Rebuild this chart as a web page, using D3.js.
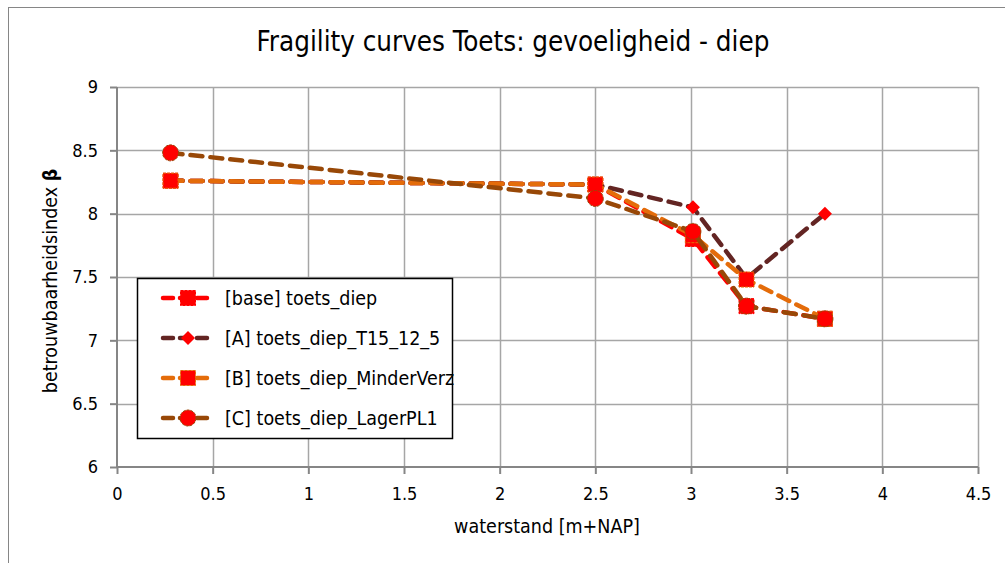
<!DOCTYPE html>
<html>
<head>
<meta charset="utf-8">
<script src="https://cdn.jsdelivr.net/npm/d3@7"></script>
<style>
  body { margin: 0; background: #fff; }
  svg text { font-family: "DejaVu Sans Condensed", "Liberation Sans", Arial, sans-serif; font-stretch: condensed; fill: #000; }
</style>
</head>
<body>
<div id="chart"></div>
<script>
// data
let waterstand = [0.28, 2.5, 3.01, 3.29, 3.7];
let baseVals = [8.26, 8.23, 7.80, 7.27, 7.17];
let aVals = [8.26, 8.23, 8.05, 7.49, 8.00];
let bVals = [8.26, 8.23, 7.83, 7.48, 7.17];
let cVals = [8.48, 8.12, 7.86, 7.27, 7.17];
let seriesNames = ["[base] toets_diep", "[A] toets_diep_T15_12_5", "[B] toets_diep_MinderVerz", "[C] toets_diep_LagerPL1"];
let xTicks = [0, 0.5, 1, 1.5, 2, 2.5, 3, 3.5, 4, 4.5];
let yTicks = [6, 6.5, 7, 7.5, 8, 8.5, 9];

let series = [
    {name: seriesNames[0], vals: baseVals, color: "#ff0000", marker: "square", stroke: "#ff0000"},
    {name: seriesNames[1], vals: aVals, color: "#632523", marker: "diamond", stroke: "none"},
    {name: seriesNames[2], vals: bVals, color: "#e46c0a", marker: "square", stroke: "#e46c0a"},
    {name: seriesNames[3], vals: cVals, color: "#984807", marker: "circle", stroke: "#984807"}
];

let SVGwidth = 1005, SVGheight = 563;
let margin = {top: 87, left: 117},
    width = 978 - 117,
    height = 467 - 87;

let svg = d3.select("#chart").append("svg")
    .attr("width", SVGwidth)
    .attr("height", SVGheight);

// outer chart border
svg.append("rect")
    .attr("x", 8.5).attr("y", 7.5)
    .attr("width", 1100).attr("height", 600)
    .style("fill", "none").style("stroke", "#868686");

svg.append("text")
    .attr("x", 513).attr("y", 51)
    .style("text-anchor", "middle")
    .style("font-size", "27.5px")
    .text("Fragility curves Toets: gevoeligheid - diep");

let g = svg.append("g")
    .attr("transform", "translate(" + margin.left + "," + margin.top + ")");

let xScale = d3.scaleLinear().domain([0, 4.5]).range([0, width]);
let yScale = d3.scaleLinear().domain([6, 9]).range([height, 0]);

// gridlines
g.selectAll(".vgrid").data(xTicks.slice(1)).enter().append("line")
    .attr("class", "vgrid")
    .attr("x1", d => Math.round(xScale(d)) + 0.5).attr("x2", d => Math.round(xScale(d)) + 0.5)
    .attr("y1", 0).attr("y2", height)
    .style("stroke", "#a6a6a6").style("stroke-width", 1.5);
g.selectAll(".hgrid").data(yTicks.slice(1)).enter().append("line")
    .attr("class", "hgrid")
    .attr("y1", d => Math.round(yScale(d)) + 0.5).attr("y2", d => Math.round(yScale(d)) + 0.5)
    .attr("x1", 0).attr("x2", width)
    .style("stroke", "#a6a6a6").style("stroke-width", 1.5);

let xAxis = d3.axisBottom(xScale).tickValues(xTicks).tickSize(7).tickPadding(13)
    .tickFormat(d3.format("~g"));
let yAxis = d3.axisLeft(yScale).tickValues(yTicks).tickSize(7).tickPadding(12)
    .tickFormat(d3.format("~g"));

let gx = g.append("g").attr("transform", "translate(0," + height + ")").call(xAxis);
let gy = g.append("g").call(yAxis);
[gx, gy].forEach(function(a) {
    a.select(".domain").remove();
    a.selectAll("line").style("stroke", "#868686").style("stroke-width", 2);
    a.selectAll("text").style("font-size", "18px").style("font-family", null);
});
g.append("line").attr("x1", 0).attr("x2", width).attr("y1", height).attr("y2", height)
    .style("stroke", "#868686").style("stroke-width", 2);
g.append("line").attr("x1", 0).attr("x2", 0).attr("y1", 0).attr("y2", height)
    .style("stroke", "#868686").style("stroke-width", 2);

svg.append("text")
    .attr("x", 547).attr("y", 533)
    .style("text-anchor", "middle").style("font-size", "19.5px")
    .text("waterstand [m+NAP]");

let yLab = svg.append("text")
    .attr("transform", "translate(57,281) rotate(-90)")
    .style("text-anchor", "middle").style("font-size", "19.5px");
yLab.append("tspan").text("betrouwbaarheidsindex ");
yLab.append("tspan").style("font-weight", "bold").text("β");

function drawMarker(sel, s) {
    if (s.marker == "square") {
        sel.append("rect").attr("x", -7.5).attr("y", -7.5).attr("width", 15).attr("height", 15)
            .style("fill", "#ff0000").style("stroke", s.stroke)
            .style("stroke-width", 1).style("stroke-dasharray", "3,1");
    } else if (s.marker == "diamond") {
        sel.append("path").attr("d", "M0,-7L7,0L0,7L-7,0Z").style("fill", "#ff0000");
    } else {
        sel.append("circle").attr("r", 8).style("fill", "#ff0000")
            .style("stroke", s.stroke).style("stroke-width", 1).style("stroke-dasharray", "3,1");
    }
}

let line = d3.line()
    .x(function(d, i) { return xScale(waterstand[i]); })
    .y(function(d) { return yScale(d); });

series.forEach(function(s) {
    g.append("path")
        .datum(s.vals)
        .attr("d", line)
        .style("fill", "none")
        .style("stroke", s.color)
        .style("stroke-width", 4.5)
        .style("stroke-dasharray", "12,8")
        .style("stroke-linecap", "round");
    s.vals.forEach(function(v, i) {
        let m = g.append("g").attr("transform", "translate(" + xScale(waterstand[i]) + "," + yScale(v) + ")");
        drawMarker(m, s);
    });
});

// legend
let legend = svg.append("g").attr("transform", "translate(137,278)");
legend.append("rect")
    .attr("x", 0.5).attr("y", 0.5).attr("width", 315).attr("height", 160)
    .style("fill", "#fff").style("stroke", "#000").style("stroke-width", 1.5);
series.forEach(function(s, i) {
    let row = legend.append("g").attr("transform", "translate(0," + (20 + i * 40) + ")");
    row.append("line").attr("x1", 26).attr("x2", 76).attr("y1", 0).attr("y2", 0)
        .style("stroke", s.color).style("stroke-width", 4.5)
        .style("stroke-dasharray", "10,7").style("stroke-linecap", "round");
    let m = row.append("g").attr("transform", "translate(51,0)");
    drawMarker(m, s);
    row.append("text").attr("x", 88).attr("y", 7).style("font-size", "19.5px").text(s.name);
});
</script>
</body>
</html>
